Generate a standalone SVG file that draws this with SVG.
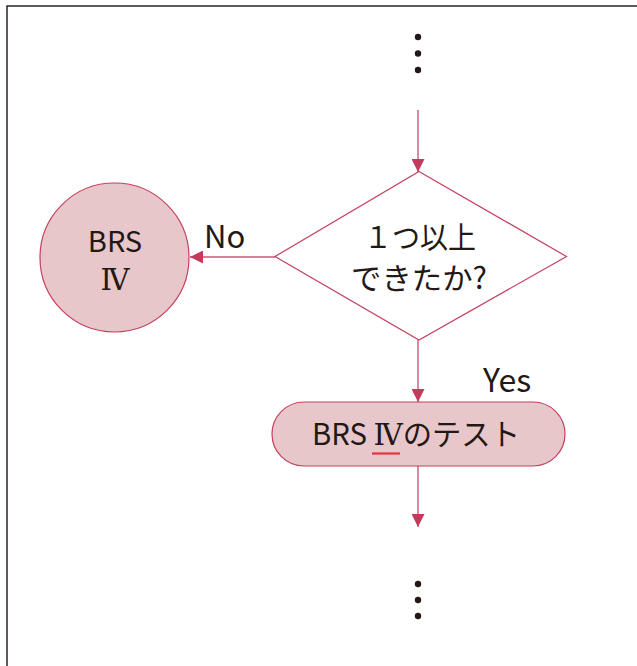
<svg xmlns="http://www.w3.org/2000/svg" width="637" height="666" viewBox="0 0 637 666">
<style>
.frame{stroke:#2b2424;stroke-width:1.5;fill:none}
.node{fill:#e8c7ca;stroke:#c4405f;stroke-width:1.2}
.dia{fill:#fff;stroke:#c4405f;stroke-width:1.2}
.con{stroke:#cc5577;stroke-width:1.4;fill:none}
.t{font-family:"Noto Sans CJK JP","Noto Sans",sans-serif;fill:#231815;font-size:30px}
.rn{font-family:"DejaVu Serif","Liberation Serif","Noto Sans CJK JP",serif}
.dot{fill:#231815}
</style>
<defs>
<marker id="ah" markerWidth="14" markerHeight="13" refX="13" refY="6.5" orient="auto" markerUnits="userSpaceOnUse">
<path d="M0,0 L13,6.5 L0,13 Z" fill="#c23a5c"/>
</marker>
</defs>
<path class="frame" d="M7,666 V6 H637"/>
<g id="dots-top">
<circle class="dot" cx="418" cy="37" r="3.2"/>
<circle class="dot" cx="418" cy="53.5" r="3.2"/>
<circle class="dot" cx="418" cy="70" r="3.2"/>
</g>
<g id="dots-bottom">
<circle class="dot" cx="418" cy="584" r="3.2"/>
<circle class="dot" cx="418" cy="600" r="3.2"/>
<circle class="dot" cx="418" cy="616" r="3.2"/>
</g>
<g id="connectors">
<line class="con" x1="418" y1="110" x2="418" y2="172" marker-end="url(#ah)"/>
<line class="con" x1="275" y1="257" x2="190" y2="257" marker-end="url(#ah)"/>
<line class="con" x1="418" y1="340" x2="418" y2="402" marker-end="url(#ah)"/>
<line class="con" x1="418" y1="466" x2="418" y2="527" marker-end="url(#ah)"/>
<text class="t" x="204" y="248" style="font-size:31px">No</text>
<text class="t" x="483" y="392" style="font-size:32px">Yes</text>
</g>
<g id="decision">
<polygon class="dia" points="419,171.5 566.5,256.5 419,340 275,256.5"/>
<text class="t" text-anchor="middle" x="420" y="248" textLength="112" lengthAdjust="spacingAndGlyphs">１つ以上</text>
<text class="t" text-anchor="middle" x="419" y="289" textLength="136" lengthAdjust="spacingAndGlyphs">できたか?</text>
</g>
<g id="brs4-circle">
<circle class="node" cx="114.5" cy="257.5" r="74.5"/>
<text class="t" text-anchor="middle" x="115" y="252" style="font-size:29px">BRS</text>
<text class="t rn" text-anchor="middle" x="115" y="290" style="font-size:29px">Ⅳ</text>
</g>
<g id="brs4-test">
<rect class="node" x="272" y="402" width="293" height="64" rx="32" ry="32"/>
<text class="t" x="312" y="445" textLength="208" lengthAdjust="spacingAndGlyphs">BRS <tspan class="rn">Ⅳ</tspan>のテスト</text>
<line x1="372" y1="453.5" x2="400" y2="453.5" stroke="#e8333a" stroke-width="2.2"/>
</g>
</svg>
